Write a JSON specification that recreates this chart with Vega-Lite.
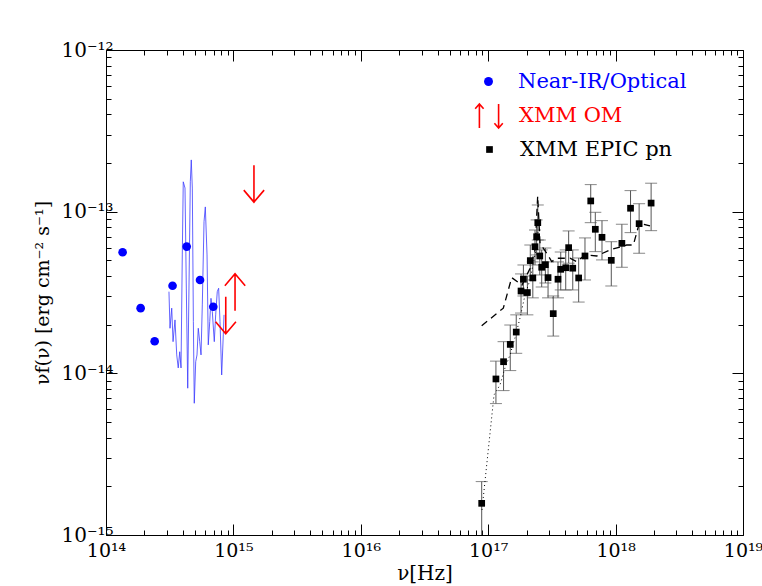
{
  "$schema": "https://vega.github.io/schema/vega-lite/v6.json",
  "width": 637,
  "height": 485,
  "autosize": {"type": "none"},
  "padding": {"left": 106, "top": 50, "right": 19, "bottom": 51},
  "background": "white",
  "config": {"view": {"stroke": null}, "font": "DejaVu Serif"},
  "datasets": {
    "optical": [
      {"nu": 1.35e14, "f": 5.61e-14, "series": "Near-IR/Optical"},
      {"nu": 1.87e14, "f": 2.53e-14, "series": "Near-IR/Optical"},
      {"nu": 2.41e14, "f": 1.58e-14, "series": "Near-IR/Optical"},
      {"nu": 3.33e14, "f": 3.48e-14, "series": "Near-IR/Optical"},
      {"nu": 4.30e14, "f": 6.08e-14, "series": "Near-IR/Optical"},
      {"nu": 5.47e14, "f": 3.78e-14, "series": "Near-IR/Optical"},
      {"nu": 6.95e14, "f": 2.58e-14, "series": "Near-IR/Optical"}
    ],
    "om": [
      {"nu": 1.45e15, "f": 1.94e-13, "limit": "upper", "series": "XMM OM"},
      {"nu": 1.03e15, "f": 2.44e-14, "limit": "lower", "series": "XMM OM"},
      {"nu": 8.71e14, "f": 2.98e-14, "limit": "upper", "series": "XMM OM"}
    ],
    "spec": [
      {"nu": 3.12e14, "f": 3.20e-14}, {"nu": 3.18e14, "f": 1.90e-14}, {"nu": 3.28e14, "f": 2.53e-14},
      {"nu": 3.36e14, "f": 1.57e-14}, {"nu": 3.48e14, "f": 2.14e-14}, {"nu": 3.59e14, "f": 1.30e-14},
      {"nu": 3.69e14, "f": 1.08e-14}, {"nu": 3.79e14, "f": 1.36e-14}, {"nu": 3.88e14, "f": 1.08e-14},
      {"nu": 3.97e14, "f": 5.40e-14}, {"nu": 4.04e14, "f": 1.53e-13}, {"nu": 4.17e14, "f": 1.40e-13},
      {"nu": 4.27e14, "f": 3.37e-14}, {"nu": 4.38e14, "f": 8.09e-15}, {"nu": 4.48e14, "f": 3.37e-14},
      {"nu": 4.59e14, "f": 1.53e-13}, {"nu": 4.67e14, "f": 2.09e-13}, {"nu": 4.76e14, "f": 1.40e-13},
      {"nu": 4.85e14, "f": 2.09e-14}, {"nu": 4.93e14, "f": 6.53e-15}, {"nu": 5.06e14, "f": 1.18e-14},
      {"nu": 5.18e14, "f": 1.30e-14}, {"nu": 5.30e14, "f": 1.90e-14}, {"nu": 5.44e14, "f": 1.57e-14},
      {"nu": 5.57e14, "f": 1.30e-14}, {"nu": 5.70e14, "f": 2.65e-14}, {"nu": 5.88e14, "f": 8.67e-14},
      {"nu": 6.02e14, "f": 1.07e-13}, {"nu": 6.21e14, "f": 5.40e-14}, {"nu": 6.35e14, "f": 1.50e-14},
      {"nu": 6.52e14, "f": 2.09e-14}, {"nu": 6.67e14, "f": 2.91e-14}, {"nu": 6.83e14, "f": 2.41e-14},
      {"nu": 7.08e14, "f": 1.57e-14}, {"nu": 7.26e14, "f": 2.30e-14}, {"nu": 7.47e14, "f": 3.20e-14},
      {"nu": 7.66e14, "f": 3.36e-14}, {"nu": 7.85e14, "f": 2.09e-14}, {"nu": 8.09e14, "f": 9.77e-15},
      {"nu": 8.33e14, "f": 1.73e-14}, {"nu": 8.44e14, "f": 2.30e-14}
    ],
    "xray": [
      {"nu": 8.89e16, "f": 1.57e-15, "lo": 6.0e-16, "hi": 2.14e-15, "series": "XMM EPIC pn"},
      {"nu": 1.15e17, "f": 9.23e-15, "lo": 6.50e-15, "hi": 1.19e-14, "series": "XMM EPIC pn"},
      {"nu": 1.32e17, "f": 1.18e-14, "lo": 7.82e-15, "hi": 1.57e-14, "series": "XMM EPIC pn"},
      {"nu": 1.49e17, "f": 1.51e-14, "lo": 1.04e-14, "hi": 1.99e-14, "series": "XMM EPIC pn"},
      {"nu": 1.66e17, "f": 1.80e-14, "lo": 1.33e-14, "hi": 2.30e-14, "series": "XMM EPIC pn"},
      {"nu": 1.81e17, "f": 3.23e-14, "lo": 2.36e-14, "hi": 4.12e-14, "series": "XMM EPIC pn"},
      {"nu": 2.03e17, "f": 3.16e-14, "lo": 2.30e-14, "hi": 4.00e-14, "series": "XMM EPIC pn"},
      {"nu": 1.89e17, "f": 3.82e-14, "lo": 3.01e-14, "hi": 4.68e-14, "series": "XMM EPIC pn"},
      {"nu": 2.24e17, "f": 3.89e-14, "lo": 2.93e-14, "hi": 4.89e-14, "series": "XMM EPIC pn"},
      {"nu": 2.14e17, "f": 4.98e-14, "lo": 3.78e-14, "hi": 6.22e-14, "series": "XMM EPIC pn"},
      {"nu": 2.33e17, "f": 6.07e-14, "lo": 4.68e-14, "hi": 7.70e-14, "series": "XMM EPIC pn"},
      {"nu": 2.45e17, "f": 8.55e-14, "lo": 6.68e-14, "hi": 1.10e-13, "series": "XMM EPIC pn"},
      {"nu": 2.40e17, "f": 7.00e-14, "lo": 5.40e-14, "hi": 8.89e-14, "series": "XMM EPIC pn"},
      {"nu": 2.54e17, "f": 5.32e-14, "lo": 4.06e-14, "hi": 6.68e-14, "series": "XMM EPIC pn"},
      {"nu": 2.63e17, "f": 4.53e-14, "lo": 3.42e-14, "hi": 5.80e-14, "series": "XMM EPIC pn"},
      {"nu": 2.81e17, "f": 4.70e-14, "lo": 3.62e-14, "hi": 5.96e-14, "series": "XMM EPIC pn"},
      {"nu": 2.95e17, "f": 3.91e-14, "lo": 2.93e-14, "hi": 4.89e-14, "series": "XMM EPIC pn"},
      {"nu": 3.24e17, "f": 2.34e-14, "lo": 1.70e-14, "hi": 3.01e-14, "series": "XMM EPIC pn"},
      {"nu": 3.53e17, "f": 3.82e-14, "lo": 2.93e-14, "hi": 4.89e-14, "series": "XMM EPIC pn"},
      {"nu": 3.71e17, "f": 4.40e-14, "lo": 3.28e-14, "hi": 5.63e-14, "series": "XMM EPIC pn"},
      {"nu": 4.06e17, "f": 4.50e-14, "lo": 3.28e-14, "hi": 5.80e-14, "series": "XMM EPIC pn"},
      {"nu": 4.28e17, "f": 5.99e-14, "lo": 4.80e-14, "hi": 7.60e-14, "series": "XMM EPIC pn"},
      {"nu": 4.61e17, "f": 4.47e-14, "lo": 3.28e-14, "hi": 5.80e-14, "series": "XMM EPIC pn"},
      {"nu": 5.13e17, "f": 3.89e-14, "lo": 2.76e-14, "hi": 5.17e-14, "series": "XMM EPIC pn"},
      {"nu": 5.75e17, "f": 5.32e-14, "lo": 3.78e-14, "hi": 6.88e-14, "series": "XMM EPIC pn"},
      {"nu": 6.38e17, "f": 1.165e-13, "lo": 8.55e-14, "hi": 1.47e-13, "series": "XMM EPIC pn"},
      {"nu": 6.93e17, "f": 7.78e-14, "lo": 5.66e-14, "hi": 9.91e-14, "series": "XMM EPIC pn"},
      {"nu": 7.82e17, "f": 6.94e-14, "lo": 5.03e-14, "hi": 8.80e-14, "series": "XMM EPIC pn"},
      {"nu": 9.25e17, "f": 5.00e-14, "lo": 3.47e-14, "hi": 6.52e-14, "series": "XMM EPIC pn"},
      {"nu": 1.12e18, "f": 6.37e-14, "lo": 4.53e-14, "hi": 8.36e-14, "series": "XMM EPIC pn"},
      {"nu": 1.31e18, "f": 1.05e-13, "lo": 7.42e-14, "hi": 1.35e-13, "series": "XMM EPIC pn"},
      {"nu": 1.53e18, "f": 8.43e-14, "lo": 5.53e-14, "hi": 1.12e-13, "series": "XMM EPIC pn"},
      {"nu": 1.90e18, "f": 1.13e-13, "lo": 7.63e-14, "hi": 1.50e-13, "series": "XMM EPIC pn"}
    ],
    "dashed": [
      {"nu": 8.89e16, "f": 1.97e-14}, {"nu": 1.314e17, "f": 2.53e-14}, {"nu": 1.529e17, "f": 3.91e-14},
      {"nu": 1.842e17, "f": 3.52e-14}, {"nu": 2.128e17, "f": 4.45e-14}, {"nu": 2.33e17, "f": 5.80e-14},
      {"nu": 2.446e17, "f": 1.25e-13}, {"nu": 2.551e17, "f": 6.37e-14}, {"nu": 2.879e17, "f": 5.53e-14},
      {"nu": 3.15e17, "f": 4.91e-14}, {"nu": 3.449e17, "f": 5.15e-14}, {"nu": 4.386e17, "f": 5.15e-14},
      {"nu": 4.951e17, "f": 4.91e-14}, {"nu": 5.753e17, "f": 5.40e-14}, {"nu": 7.105e17, "f": 5.32e-14},
      {"nu": 9.04e17, "f": 5.80e-14}, {"nu": 1.222e18, "f": 6.22e-14}, {"nu": 1.377e18, "f": 6.22e-14},
      {"nu": 1.535e18, "f": 8.48e-14}, {"nu": 1.862e18, "f": 8.16e-14}
    ],
    "dotted": [
      {"nu": 8.94e16, "f": 1.43e-15}, {"nu": 1.111e17, "f": 7.35e-15}, {"nu": 1.238e17, "f": 8.48e-15},
      {"nu": 1.355e17, "f": 1.08e-14}, {"nu": 1.483e17, "f": 1.30e-14}, {"nu": 1.624e17, "f": 1.66e-14},
      {"nu": 1.777e17, "f": 2.20e-14}, {"nu": 1.945e17, "f": 3.05e-14}, {"nu": 2.128e17, "f": 3.78e-14},
      {"nu": 2.33e17, "f": 5.40e-14}, {"nu": 2.46e17, "f": 7.49e-14}
    ]
  },
  "resolve": {"axis": {"x": "independent", "y": "independent"}},
  "layer": [
    {
      "data": {"name": "xray"},
      "mark": {"type": "rule", "color": "#555555", "strokeWidth": 1, "clip": true},
      "encoding": {
        "x": {"field": "nu", "type": "quantitative",
          "scale": {"type": "log", "domain": [1e14, 1e19], "nice": false},
          "axis": {
            "orient": "bottom", "title": "ν[Hz]", "titleFont": "DejaVu Serif", "titleFontSize": 20, "titleFontWeight": "normal", "titlePadding": -3,
            "values": [1e14,2e14,3e14,4e14,5e14,6e14,7e14,8e14,9e14,1e15,2e15,3e15,4e15,5e15,6e15,7e15,8e15,9e15,1e16,2e16,3e16,4e16,5e16,6e16,7e16,8e16,9e16,1e17,2e17,3e17,4e17,5e17,6e17,7e17,8e17,9e17,1e18,2e18,3e18,4e18,5e18,6e18,7e18,8e18,9e18,1e19],
            "labelExpr": "datum.value == 1e14 ? '10¹⁴' : datum.value == 1e15 ? '10¹⁵' : datum.value == 1e16 ? '10¹⁶' : datum.value == 1e17 ? '10¹⁷' : datum.value == 1e18 ? '10¹⁸' : datum.value == 1e19 ? '10¹⁹' : ''",
            "labelFont": "DejaVu Serif", "labelFontSize": 19, "labelColor": "black", "labelPadding": 17, "labelFlush": false, "labelOverlap": false,
            "grid": false, "domainColor": "black", "tickColor": "black",
            "tickSize": {"condition": {"test": "abs(log(datum.value)/LN10 - round(log(datum.value)/LN10)) < 1e-6", "value": -11}, "value": -5}
          }
        },
        "y": {"field": "lo", "type": "quantitative",
          "scale": {"type": "log", "domain": [1e-15, 1e-12], "nice": false},
          "axis": {
            "orient": "left", "title": "νf(ν) [erg cm⁻² s⁻¹]", "titleFont": "DejaVu Serif", "titleFontSize": 19, "titleFontWeight": "normal", "titlePadding": 8,
            "values": [1e-15,2e-15,3e-15,4e-15,5e-15,6e-15,7e-15,8e-15,9e-15,1e-14,2e-14,3e-14,4e-14,5e-14,6e-14,7e-14,8e-14,9e-14,1e-13,2e-13,3e-13,4e-13,5e-13,6e-13,7e-13,8e-13,9e-13,1e-12],
            "labelExpr": "datum.value == 1e-15 ? '10⁻¹⁵' : datum.value == 1e-14 ? '10⁻¹⁴' : datum.value == 1e-13 ? '10⁻¹³' : datum.value == 1e-12 ? '10⁻¹²' : ''",
            "labelFont": "DejaVu Serif", "labelFontSize": 20, "labelColor": "black", "labelPadding": 4, "labelFlush": false, "labelOverlap": false,
            "grid": false, "domainColor": "black", "tickColor": "black",
            "tickSize": {"condition": {"test": "abs(log(datum.value)/LN10 - round(log(datum.value)/LN10)) < 1e-6", "value": -11}, "value": -5}
          }
        },
        "y2": {"field": "hi"}
      }
    },
    {
      "data": {"name": "spec"},
      "mark": {"type": "line", "color": "#3b3bff", "strokeWidth": 0.8, "clip": true},
      "encoding": {
        "x": {"field": "nu", "type": "quantitative",
          "axis": {
            "orient": "top", "title": null, "labels": false, "grid": false, "domainColor": "black", "tickColor": "black",
            "values": [1e14,2e14,3e14,4e14,5e14,6e14,7e14,8e14,9e14,1e15,2e15,3e15,4e15,5e15,6e15,7e15,8e15,9e15,1e16,2e16,3e16,4e16,5e16,6e16,7e16,8e16,9e16,1e17,2e17,3e17,4e17,5e17,6e17,7e17,8e17,9e17,1e18,2e18,3e18,4e18,5e18,6e18,7e18,8e18,9e18,1e19],
            "tickSize": {"condition": {"test": "abs(log(datum.value)/LN10 - round(log(datum.value)/LN10)) < 1e-6", "value": -11}, "value": -5}
          }
        },
        "y": {"field": "f", "type": "quantitative",
          "axis": {
            "orient": "right", "title": null, "labels": false, "grid": false, "domainColor": "black", "tickColor": "black",
            "values": [1e-15,2e-15,3e-15,4e-15,5e-15,6e-15,7e-15,8e-15,9e-15,1e-14,2e-14,3e-14,4e-14,5e-14,6e-14,7e-14,8e-14,9e-14,1e-13,2e-13,3e-13,4e-13,5e-13,6e-13,7e-13,8e-13,9e-13,1e-12],
            "tickSize": {"condition": {"test": "abs(log(datum.value)/LN10 - round(log(datum.value)/LN10)) < 1e-6", "value": -11}, "value": -5}
          }
        }
      }
    },
    {
      "data": {"name": "xray"},
      "mark": {"type": "tick", "orient": "horizontal", "size": 12, "thickness": 1, "color": "#555555", "clip": true},
      "encoding": {
        "x": {"field": "nu", "type": "quantitative", "axis": null},
        "y": {"field": "hi", "type": "quantitative", "axis": null}
      }
    },
    {
      "data": {"name": "xray"},
      "mark": {"type": "tick", "orient": "horizontal", "size": 12, "thickness": 1, "color": "#555555", "clip": true},
      "encoding": {
        "x": {"field": "nu", "type": "quantitative", "axis": null},
        "y": {"field": "lo", "type": "quantitative", "axis": null}
      }
    },
    {
      "data": {"name": "dotted"},
      "mark": {"type": "line", "color": "black", "strokeWidth": 1, "strokeDash": [1, 3], "clip": true},
      "encoding": {
        "x": {"field": "nu", "type": "quantitative", "axis": null},
        "y": {"field": "f", "type": "quantitative", "axis": null}
      }
    },
    {
      "data": {"name": "dashed"},
      "mark": {"type": "line", "color": "black", "strokeWidth": 1.3, "strokeDash": [7, 5], "clip": true},
      "encoding": {
        "x": {"field": "nu", "type": "quantitative", "axis": null},
        "y": {"field": "f", "type": "quantitative", "axis": null}
      }
    },
    {
      "data": {"name": "xray"},
      "mark": {"type": "point", "shape": "square", "filled": true, "size": 45, "opacity": 1, "clip": true},
      "encoding": {
        "x": {"field": "nu", "type": "quantitative", "axis": null},
        "y": {"field": "f", "type": "quantitative", "axis": null},
        "color": {"field": "series", "type": "nominal",
          "scale": {"domain": ["XMM EPIC pn"], "range": ["black"]},
          "legend": {
            "title": null, "orient": "none", "legendX": 373, "legendY": 89, "padding": 0,
            "symbolType": "square", "symbolSize": 45, "symbolFillColor": "black", "symbolStrokeWidth": 0,
            "labelFont": "DejaVu Serif", "labelFontSize": 21, "labelLimit": 400, "labelOffset": 20, "labelColor": "black"
          }
        }
      }
    },
    {
      "data": {"name": "om"},
      "transform": [{"filter": "datum.limit == 'upper'"}],
      "mark": {"type": "point", "shape": "M0,0L0,2M-0.55,1.35L0,2L0.55,1.35", "filled": false, "strokeWidth": 1.6, "size": 1369, "opacity": 1},
      "encoding": {
        "x": {"field": "nu", "type": "quantitative", "axis": null},
        "y": {"field": "f", "type": "quantitative", "axis": null},
        "stroke": {"field": "series", "type": "nominal",
          "scale": {"domain": ["XMM OM"], "range": ["red"]},
          "legend": {
            "title": null, "orient": "none", "legendX": 370, "legendY": 53, "padding": 0,
            "symbolType": "M-0.8,1L-0.8,-1M-1.15,-0.6L-0.8,-1L-0.45,-0.6M0.8,-1L0.8,1M0.45,0.6L0.8,1L1.15,0.6",
            "symbolSize": 576, "symbolStrokeWidth": 1.6, "symbolStrokeColor": "red", "symbolFillColor": "transparent",
            "labelFont": "DejaVu Serif", "labelFontSize": 21, "labelLimit": 400, "labelOffset": 17, "labelColor": "red"
          }
        }
      }
    },
    {
      "data": {"name": "om"},
      "transform": [{"filter": "datum.limit == 'lower'"}],
      "mark": {"type": "point", "shape": "M0,0L0,-2M-0.55,-1.35L0,-2L0.55,-1.35", "filled": false, "strokeWidth": 1.6, "size": 1369, "opacity": 1},
      "encoding": {
        "x": {"field": "nu", "type": "quantitative", "axis": null},
        "y": {"field": "f", "type": "quantitative", "axis": null},
        "stroke": {"field": "series", "type": "nominal"}
      }
    },
    {
      "data": {"name": "optical"},
      "mark": {"type": "point", "shape": "circle", "filled": true, "size": 75, "opacity": 1},
      "encoding": {
        "x": {"field": "nu", "type": "quantitative", "axis": null},
        "y": {"field": "f", "type": "quantitative", "axis": null},
        "fill": {"field": "series", "type": "nominal",
          "scale": {"domain": ["Near-IR/Optical"], "range": ["blue"]},
          "legend": {
            "title": null, "orient": "none", "legendX": 372, "legendY": 21, "padding": 0,
            "symbolType": "circle", "symbolSize": 80, "symbolFillColor": "blue", "symbolStrokeWidth": 0,
            "labelFont": "DejaVu Serif", "labelFontSize": 21, "labelLimit": 400, "labelOffset": 19, "labelColor": "blue"
          }
        }
      }
    }
  ]
}
